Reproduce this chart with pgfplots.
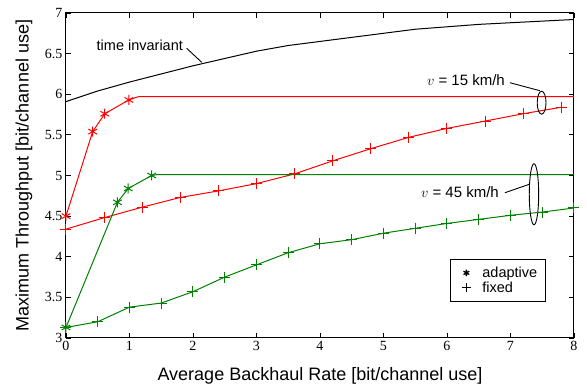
\documentclass[border=0pt]{standalone}
\usepackage{fontspec}
\setmainfont{Liberation Sans}
\newfontfamily\serifticks{Liberation Serif}
\usepackage{pgfplots}
\pgfplotsset{compat=1.18}
\definecolor{dgreen}{rgb}{0,0.5,0}
\begin{document}
\begin{tikzpicture}[x=1pt,y=1pt]
\useasboundingbox (-66,-52) rectangle (521,338);
\begin{axis}[at={(0,0)}, anchor=south west, scale only axis, width=508pt, height=325pt,
  xmin=0, xmax=8, ymin=3, ymax=7,
  xtick={0,1,2,3,4,5,6,7,8}, ytick={3,3.5,4,4.5,5,5.5,6,6.5,7},
  tick pos=both, tick align=inside, major tick length=5pt,
  /pgf/number format/assume math mode=true,
  ticklabel style={font=\serifticks\fontsize{14}{14}\selectfont},
  axis line style={line width=1pt},
  every tick/.style={black, line width=0.8pt},
  xlabel={Average Backhaul Rate [bit/channel use]},
  ylabel={Maximum Throughput [bit/channel use]},
  label style={font=\fontsize{18}{20}\selectfont},
  x label style={at={(axis description cs:0.5,-0.117)}, anchor=center},
  y label style={at={(axis description cs:-0.0827,0.5)}, anchor=center},
  clip=false,
  legend style={at={(axis description cs:0.756,0.243)}, anchor=north west, draw=black, line width=0.7pt,
    font=\fontsize{14.5}{16}\selectfont, inner xsep=6pt, inner ysep=5.5pt, row sep=-1pt},
  legend cell align=left,
]
% time invariant
\addplot[black, line width=1pt, forget plot] coordinates {
 (0,5.91)(0.5,6.04)(1,6.15)(1.5,6.25)(2,6.35)(2.5,6.44)(3,6.53)(3.5,6.60)(4,6.65)
 (4.5,6.70)(5,6.75)(5.5,6.80)(6,6.83)(6.5,6.86)(7,6.88)(7.5,6.90)(8,6.92)};
% v=15 adaptive
\addplot[red, line width=1pt, mark=asterisk, mark size=5pt, mark indices={1,2,3,4}, forget plot] coordinates {
 (0,4.5)(0.42,5.54)(0.61,5.76)(0.99,5.93)(1.14,5.97)(8,5.97)};
% v=15 fixed
\addplot[red, line width=1pt, mark=+, mark size=5.5pt, forget plot] coordinates {
 (0,4.34)(0.6,4.48)(1.2,4.61)(1.8,4.73)(2.4,4.81)(3.0,4.90)(3.6,5.02)(4.2,5.18)
 (4.8,5.33)(5.4,5.47)(6.0,5.58)(6.6,5.67)(7.2,5.76)(7.8,5.84)};
% v=45 adaptive
\addplot[dgreen, line width=1pt, mark=asterisk, mark size=5pt, mark indices={1,2,3,4}, forget plot] coordinates {
 (0,3.13)(0.81,4.67)(0.98,4.84)(1.35,5.0)(1.43,5.01)(8,5.01)};
% v=45 fixed
\addplot[dgreen, line width=1pt, mark=+, mark size=5.5pt, forget plot] coordinates {
 (0,3.13)(0.5,3.2)(1,3.38)(1.5,3.43)(2,3.57)(2.5,3.75)(3,3.9)(3.5,4.05)(4,4.16)
 (4.5,4.21)(5,4.29)(5.5,4.35)(6,4.41)(6.5,4.46)(7,4.51)(7.5,4.55)(8,4.6)};
\addlegendimage{legend image code/.code={%
  \path[draw=none] (0pt,0pt) (24pt,0pt);
  \draw[black, line width=1.3pt, mark=asterisk, mark size=3.3pt] plot coordinates {(10pt,0pt)};}}
\addlegendentry{adaptive}
\addlegendimage{legend image code/.code={%
  \path[draw=none] (0pt,0pt) (24pt,0pt);
  \draw[black, line width=0.9pt, mark=+, mark size=4.5pt] plot coordinates {(10pt,0pt)};}}
\addlegendentry{fixed}
% annotations
\node[anchor=east, font=\fontsize{14.5}{15}\selectfont, inner sep=1pt] at (axis cs:1.86,6.606) {time invariant};
\draw[black, line width=0.9pt] (axis cs:1.90,6.566) -- (axis cs:2.137,6.393);
\node[anchor=east, font=\fontsize{15}{15}\selectfont, inner sep=1pt] at (axis cs:6.93,6.175) {$v$ = 15 km/h};
\draw[black, line width=0.9pt] (axis cs:6.99,6.142) -- (axis cs:7.46,6.044);
\draw[black, line width=0.9pt] (axis cs:7.49,5.896) ellipse [x radius=4.4pt, y radius=11.5pt];
\node[anchor=east, font=\fontsize{15}{15}\selectfont, inner sep=1pt] at (axis cs:6.835,4.80) {$v$ = 45 km/h};
\draw[black, line width=0.9pt] (axis cs:6.913,4.788) -- (axis cs:7.296,4.892);
\draw[black, line width=0.9pt] (axis cs:7.37,4.769) ellipse [x radius=4.7pt, y radius=30.5pt];
\end{axis}
\end{tikzpicture}
\end{document}
